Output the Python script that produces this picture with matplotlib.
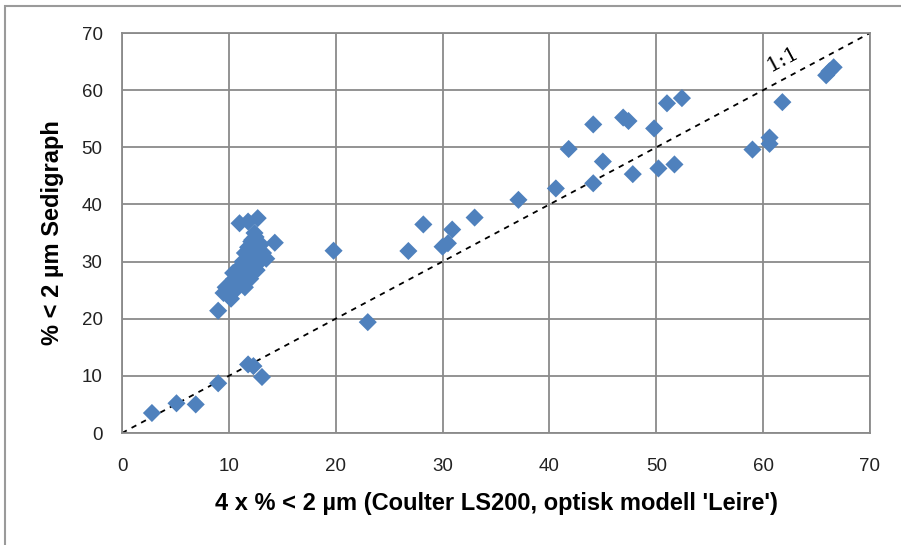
import numpy as np
import matplotlib.pyplot as plt
from matplotlib.patches import Rectangle

# Coulter LS200 (4 x % < 2 um) vs Sedigraph (% < 2 um)
coulter = [2.8, 5.1, 6.9, 9.0, 11.8, 12.3, 13.1, 23.0, 19.8, 26.8, 28.2, 30.0, 30.5, 30.9,
           33.0, 37.1, 40.6, 44.1, 41.8, 45.0, 47.8, 44.1, 46.9, 47.4, 49.8, 50.2, 51.7,
           51.0, 52.4, 59.0, 60.6, 60.6, 61.8, 65.9, 66.2, 66.6,
           # dense cluster around 10-14
           11.0, 11.8, 12.7, 9.0, 9.5, 9.7, 10.0, 10.2, 10.3, 10.5, 10.6, 10.8, 11.0, 11.0,
           11.2, 11.3, 11.5, 11.5, 11.7, 11.8, 12.0, 12.0, 12.1, 12.3, 12.4, 12.5, 12.6,
           12.8, 12.9, 13.0, 13.2, 13.5, 14.3, 12.4, 10.4, 11.4, 12.2]
sedigraph = [3.5, 5.2, 5.0, 8.7, 12.0, 11.7, 9.8, 19.4, 31.9, 31.85, 36.5, 32.6, 33.2, 35.6,
             37.7, 40.8, 42.8, 43.7, 49.7, 47.5, 45.3, 54.0, 55.2, 54.6, 53.3, 46.3, 47.0,
             57.7, 58.6, 49.6, 51.7, 50.6, 57.9, 62.6, 63.3, 64.0,
             36.7, 37.0, 37.6, 21.4, 24.5, 25.5, 24.0, 23.5, 26.0, 27.0, 25.0, 28.0, 26.5, 29.0,
             27.5, 30.0, 25.5, 31.5, 28.5, 32.5, 27.0, 30.5, 33.5, 29.0, 31.0, 34.3, 28.5,
             32.0, 30.0, 33.0, 31.5, 30.5, 33.3, 35.0, 28.0, 26.0, 33.8]

ticks = [0, 10, 20, 30, 40, 50, 60, 70]

fig = plt.figure(figsize=(9.01, 5.45), dpi=100)
ax = fig.add_axes([122/901, 1 - 433/545, 748/901, 400/545])

gray = '#8a8a8a'
ax.set_xlim(0, 70)
ax.set_ylim(0, 70)
ax.set_xticks(ticks)
ax.set_yticks(ticks)
ax.grid(True, color=gray, linewidth=1.3)
ax.set_axisbelow(True)
for s in ax.spines.values():
    s.set_color(gray)
    s.set_linewidth(1.3)
ax.tick_params(length=0, labelcolor='#222222')
ax.tick_params(axis='x', pad=18)
ax.tick_params(axis='y', pad=14)
for lab in ax.get_xticklabels() + ax.get_yticklabels():
    lab.set_family('Liberation Sans')
    lab.set_fontsize(13.5)

ax.plot([0, 70], [0, 70], color='black', linestyle=(0, (3, 3)), linewidth=1.3, zorder=2)
ax.scatter(coulter, sedigraph, marker='D', s=85, color='#4f81bd', edgecolors='none',
           zorder=3, clip_on=False)

ax.text(61.8, 65.4, '1:1', family='DejaVu Serif', fontsize=15, rotation=28,
        ha='center', va='center', zorder=4)

ax.set_xlabel("4 x % < 2 µm (Coulter LS200, optisk modell 'Leire')", fontsize=17,
              fontweight='bold', family='Liberation Sans', labelpad=12)
ax.set_ylabel('% < 2 µm Sedigraph', fontsize=17, fontweight='bold',
              family='Liberation Sans', labelpad=13)

# outer chart border
fig.patches.append(Rectangle((5/901, -0.01), 1.0, 1 - 6/545 + 0.01, transform=fig.transFigure,
                             fill=False, edgecolor='#9a9a9a', linewidth=1.5))

fig.savefig('out.png', dpi=100)
